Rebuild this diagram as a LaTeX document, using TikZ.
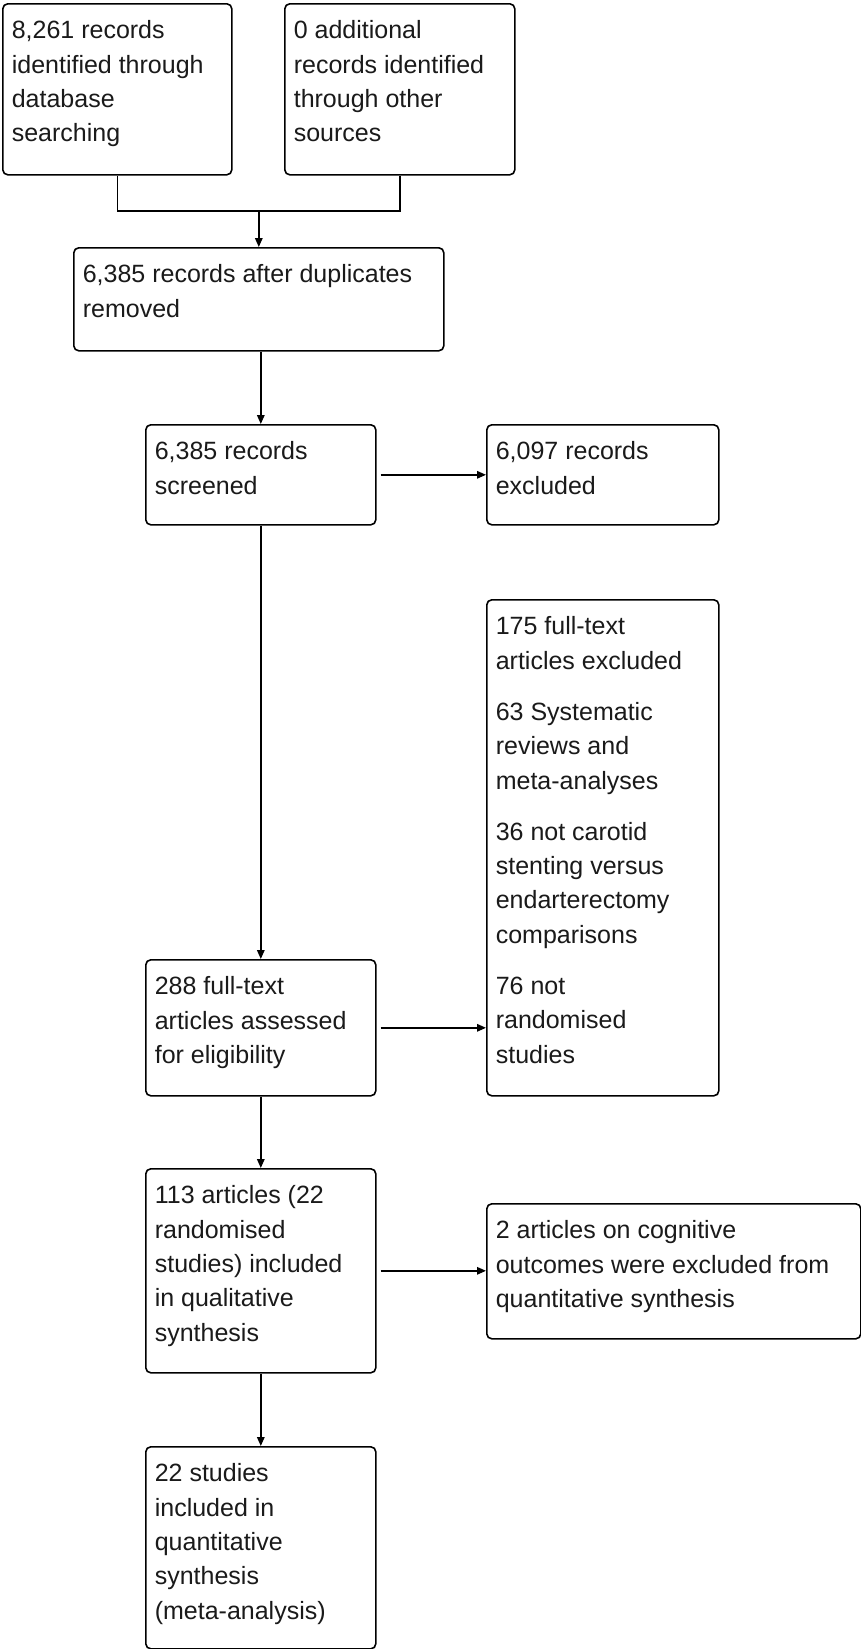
\documentclass[tikz,border=0pt]{standalone}
\usepackage{fontspec}
\setmainfont{Liberation Sans}
\usetikzlibrary{arrows.meta}
\definecolor{txtgray}{HTML}{1A1A1A}
\tikzset{
  box/.style={draw=black, line width=1.6pt, rounded corners=5pt, anchor=north west,
    inner xsep=9pt, inner ysep=11pt, fill=white, text=txtgray,
    font=\fontsize{25pt}{34.3pt}\selectfont, align=left},
  line/.style={draw=black, line width=1.6pt},
  arr/.style={line, -{Triangle[length=9pt,width=7.5pt]}}
}
\newcommand\bxt[3]{\parbox[c][#2][t]{#1}{\strut #3}}
\begin{document}
\begin{tikzpicture}[x=1pt,y=1pt]
\useasboundingbox (0,0) rectangle (861,-1649);
\node[box] (b1) at (2,-3) {\bxt{211pt}{149pt}{8,261 records\\identified through\\database\\searching}};
\node[box] (b2) at (284,-3) {\bxt{212pt}{149pt}{0 additional\\records identified\\through other\\sources}};
\node[box] (b3) at (73,-247) {\bxt{352pt}{81pt}{6,385 records after duplicates\\removed}};
\node[box] (b4) at (145,-424) {\bxt{212pt}{78pt}{6,385 records\\screened}};
\node[box] (b5) at (486,-424) {\bxt{214pt}{78pt}{6,097 records\\excluded}};
\node[box] (b6) at (486,-599) {\bxt{214pt}{474pt}{175 full-text\\articles excluded\\[17pt]63 Systematic\\reviews and\\meta-analyses\\[17pt]36 not carotid\\stenting versus\\endarterectomy\\comparisons\\[17pt]76 not\\randomised\\studies}};
\node[box] (b7) at (145,-959) {\bxt{212pt}{114pt}{288 full-text\\articles assessed\\for eligibility}};
\node[box] (b8) at (145,-1168) {\bxt{212pt}{182pt}{113 articles (22\\randomised\\studies) included\\in qualitative\\synthesis}};
\node[box] (b9) at (486,-1203) {\bxt{356pt}{113pt}{2 articles on cognitive\\outcomes were excluded from\\quantitative synthesis}};
\node[box] (b10) at (145,-1446) {\bxt{212pt}{180pt}{22 studies\\included in\\quantitative\\synthesis\\(meta-analysis)}};
\coordinate (m) at (b3.north |- 0,-211);
\draw[line] (b1.south) |- (m);
\draw[line] (b2.south) |- (m);
\draw[arr] (m) -- (b3.north);
\draw[arr] (b3.south -| b4.north) -- (b4.north);
\draw[arr] ([xshift=4pt]b4.east) -- (b5.west);
\draw[arr] (b4.south) -- (b7.north);
\draw[arr] ([xshift=4pt]b7.east) -- (b7.east -| b6.west);
\draw[arr] (b7.south) -- (b8.north);
\draw[arr] ([xshift=4pt]b8.east) -- (b8.east -| b9.west);
\draw[arr] (b8.south) -- (b10.north);
\end{tikzpicture}
\end{document}
